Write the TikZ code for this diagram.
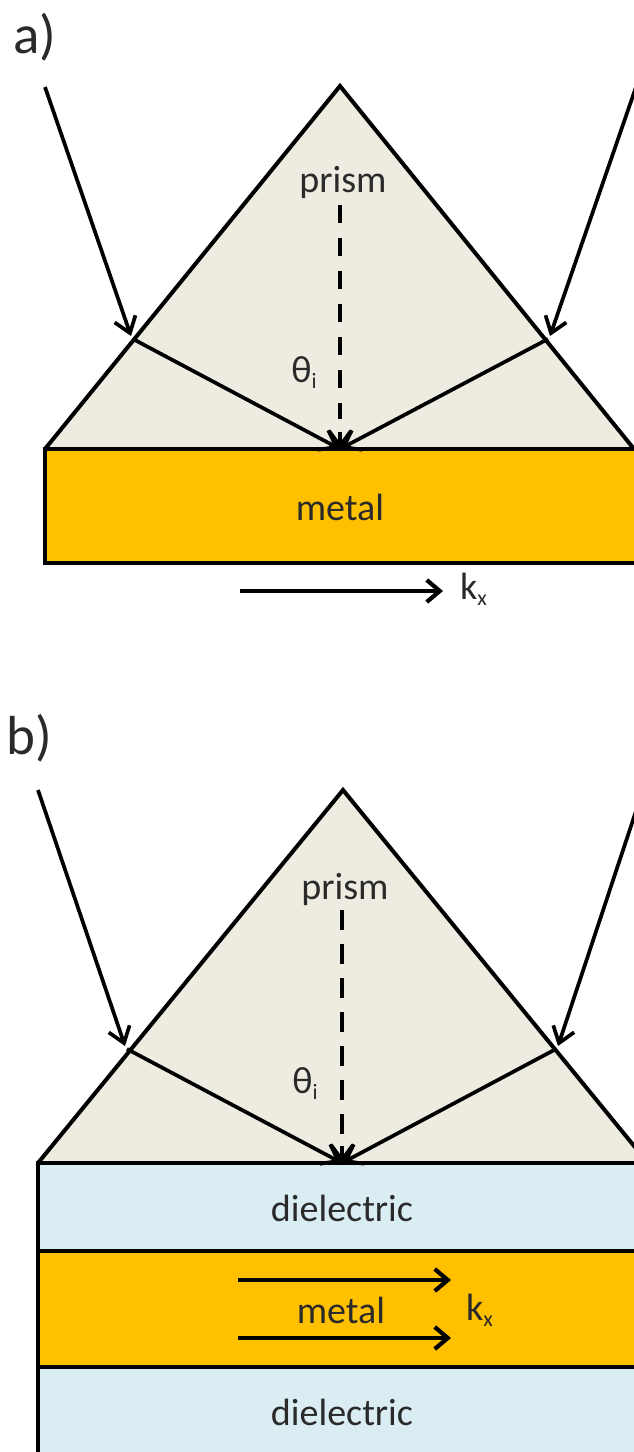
\documentclass[tikz,border=0pt]{standalone}
\usepackage{fontspec}
\setmainfont{Carlito}
\usetikzlibrary{arrows.meta}
\definecolor{prismc}{HTML}{EEECE1}
\definecolor{metalc}{HTML}{FFC000}
\definecolor{dielc}{HTML}{DAEDF3}
\definecolor{textc}{HTML}{2A2A2A}
\tikzset{
  x=1pt,y=-1pt,
  edge/.style={draw=black,line width=4pt,line join=miter},
  ray/.style={black,line width=3.7pt,-{Straight Barb[length=15pt,width=22pt,line width=3.7pt]}},
  refl/.style={ray,shorten >=1pt},
  kray/.style={black,line width=4.2pt,-{Straight Barb[length=13pt,width=22pt,line width=4.2pt]}},
  dasha/.style={black,line width=4.4pt,dash pattern=on 18pt off 15pt},
  dashb/.style={black,line width=4.4pt,dash pattern=on 20pt off 14pt},
  lab/.style={text=textc,inner sep=0pt,font=\fontsize{38}{42}\selectfont},
  head/.style={text=textc,inner sep=0pt,font=\fontsize{55}{60}\selectfont}
}
\newcommand{\subs}[2]{#1\raisebox{-6pt}{\fontsize{22}{24}\selectfont #2}}
\begin{document}
\begin{tikzpicture}
\useasboundingbox (0,0) rectangle (634,1452);
\clip (0,0) rectangle (634,1452);
\fill[white] (0,0) rectangle (634,1452);
% panel a
\coordinate (aT) at (340,86);
\coordinate (aL) at (45,449);
\coordinate (aR) at (634,449);
\coordinate (aC) at (340,449);
\coordinate (aP) at (133,339);
\coordinate (aQ) at (548,339);
\coordinate (aS) at (45,87);
\coordinate (aU) at (636,87);
\coordinate (aD) at (340,205);
\coordinate (aE) at (340,419);
\coordinate (aK) at (240,591);
\coordinate (aK2) at (443,591);
\coordinate (aPi) at (131,336);
\coordinate (aQi) at (550,336);
\fill[prismc] (aT) -- (aR) -- (aL) -- cycle;
\draw[edge] (aL) -- (aT) -- (aR);
\draw[edge,fill=metalc] (45,449) rectangle (660,563);
\node[head] (la) at (35,37) {a)};
\node[lab] (pa) at (343,182) {prism};
\node[lab] (ta) at (304,373) {\subs{θ}{i}};
\node[lab] (ma) at (340,507) {metal};
\node[lab,anchor=west] (ka) at (460,589) {\subs{k}{x}};
\draw[ray] (aS) -- (aPi);
\draw[ray] (aU) -- (aQi);
\draw[refl] (aP) -- (aC);
\draw[refl] (aQ) -- (aC);
\draw[dasha] (aD) -- (aE);
\draw[ray] (340,432) -- (aC);
\draw[kray] (aK) -- (aK2);
% panel b
\coordinate (bT) at (343,790);
\coordinate (bL) at (38,1163);
\coordinate (bR) at (648,1163);
\coordinate (bC) at (342,1163);
\coordinate (bP) at (127,1049);
\coordinate (bQ) at (556,1049);
\coordinate (bS) at (38,790);
\coordinate (bU) at (638,805);
\coordinate (bD) at (342,910);
\coordinate (bE) at (342,1134);
\coordinate (bPi) at (125,1046);
\coordinate (bQi) at (558,1046);
\coordinate (bK1) at (238,1280);
\coordinate (bK1e) at (451,1280);
\coordinate (bK2) at (238,1338);
\coordinate (bK2e) at (451,1338);
\fill[prismc] (bT) -- (bR) -- (bL) -- cycle;
\draw[edge] (bL) -- (bT) -- (bR);
\draw[edge,fill=dielc] (38,1163) rectangle (660,1251);
\draw[edge,fill=metalc] (38,1251) rectangle (660,1367);
\draw[edge,fill=dielc] (38,1367) rectangle (660,1470);
\node[head] (lb) at (29,738) {b)};
\node[lab] (pb) at (345,889) {prism};
\node[lab] (tb) at (305,1084) {\subs{θ}{i}};
\node[lab] (d1) at (342,1208) {dielectric};
\node[lab] (mb) at (341,1310) {metal};
\node[lab] (d2) at (342,1412) {dielectric};
\node[lab,anchor=west] (kb) at (466,1310) {\subs{k}{x}};
\draw[ray] (bS) -- (bPi);
\draw[ray] (bU) -- (bQi);
\draw[refl] (bP) -- (bC);
\draw[refl] (bQ) -- (bC);
\draw[dashb] (bD) -- (bE);
\draw[ray] (342,1146) -- (bC);
\draw[kray] (bK1) -- (bK1e);
\draw[kray] (bK2) -- (bK2e);
\end{tikzpicture}
\end{document}
